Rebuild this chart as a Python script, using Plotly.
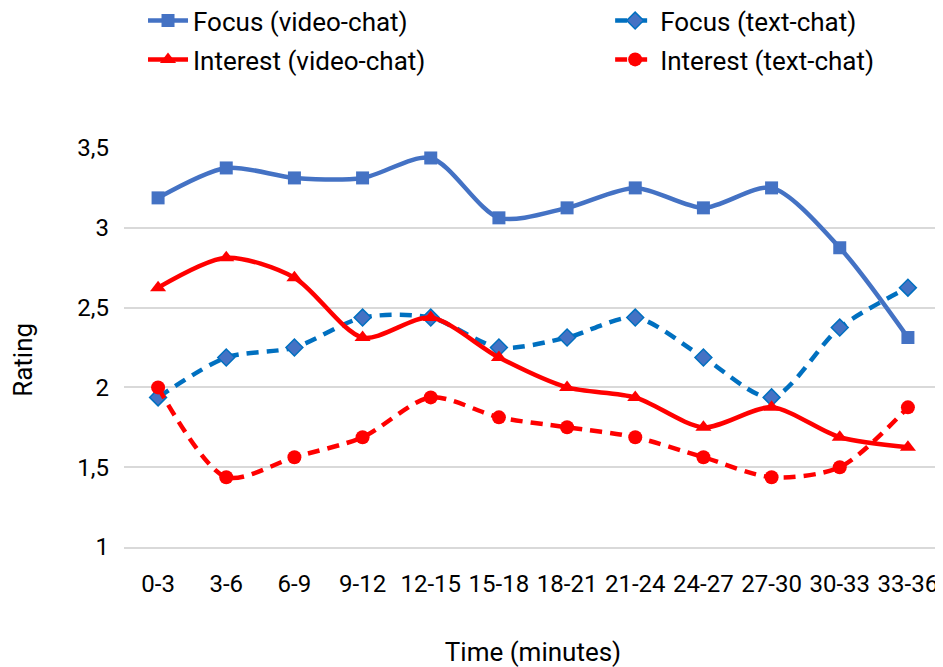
import plotly.graph_objects as go

categories = ["0-3", "3-6", "6-9", "9-12", "12-15", "15-18", "18-21", "21-24",
              "24-27", "27-30", "30-33", "33-36"]
focus_video = [3.1875, 3.375, 3.3125, 3.3125, 3.4375, 3.0625, 3.125, 3.25, 3.125, 3.25, 2.875, 2.3125]
focus_text = [1.9375, 2.1875, 2.25, 2.4375, 2.4375, 2.25, 2.3125, 2.4375, 2.1875, 1.9375, 2.375, 2.625]
interest_video = [2.625, 2.8125, 2.6875, 2.3125, 2.4375, 2.1875, 2.0, 1.9375, 1.75, 1.875, 1.6875, 1.625]
interest_text = [2.0, 1.4375, 1.5625, 1.6875, 1.9375, 1.8125, 1.75, 1.6875, 1.5625, 1.4375, 1.5, 1.875]
y_ticks = [1, 1.5, 2, 2.5, 3, 3.5]
y_ticktext = ["1", "1,5", "2", "2,5", "3", "3,5"]

FONT = "Roboto, Lato, sans-serif"

fig = go.Figure()
fig.add_trace(go.Scatter(
    x=categories, y=focus_video, name="Focus (video-chat)", mode="lines+markers",
    legend="legend", legendgroup="a",
    line=dict(color="#4472C4", width=4.5, shape="spline", smoothing=0.8),
    marker=dict(symbol="square", size=13, color="#4472C4")))
fig.add_trace(go.Scatter(
    x=categories, y=focus_text, name="Focus (text-chat)", mode="lines+markers",
    legend="legend2", legendgroup="b",
    line=dict(color="#0070C0", width=4.5, dash="12px,8px", shape="spline", smoothing=0.8),
    marker=dict(symbol="diamond", size=13, color="#4472C4", line=dict(color="#0070C0", width=1.5))))
fig.add_trace(go.Scatter(
    x=categories, y=interest_video, name="Interest (video-chat)", mode="lines+markers",
    legend="legend", legendgroup="c",
    line=dict(color="#FF0000", width=4.5, shape="spline", smoothing=0.8),
    marker=dict(symbol="triangle-up", size=14, color="#FF0000")))
fig.add_trace(go.Scatter(
    x=categories, y=interest_text, name="Interest (text-chat)", mode="lines+markers",
    legend="legend2", legendgroup="d",
    line=dict(color="#FF0000", width=4.5, dash="12px,8px", shape="spline", smoothing=0.8),
    marker=dict(symbol="circle", size=14, color="#FF0000")))

legend_common = dict(orientation="v", xref="container", yref="paper",
                     xanchor="left", yanchor="top", itemwidth=40, tracegroupgap=2,
                     font=dict(family=FONT, size=26, color="#000000"),
                     bgcolor="rgba(0,0,0,0)")
fig.update_layout(
    width=935, height=659,
    paper_bgcolor="white", plot_bgcolor="white",
    margin=dict(l=116, r=1, t=140, b=120, autoexpand=False),
    font=dict(family=FONT, size=24, color="#000000"),
    showlegend=True,
    legend=dict(x=0.1444, y=1.378, **legend_common),
    legend2=dict(x=0.644, y=1.378, **legend_common),
    annotations=[dict(text="Rating", xref="paper", yref="paper", x=-0.1235, y=0.469,
                      xanchor="center", yanchor="middle", textangle=-90, showarrow=False,
                      font=dict(family=FONT, size=26, color="#000000"))],
)
fig.update_xaxes(
    type="category", range=[-0.5, 11.5], showgrid=False, showline=True,
    linecolor="#D9D9D9", linewidth=1.5,
    ticks="", tickfont=dict(size=24), ticklabelstandoff=14,
    title=dict(text="Time (minutes)", font=dict(size=26), standoff=46),
)
fig.update_yaxes(
    range=[1, 3.5], tickvals=y_ticks, ticktext=y_ticktext,
    showgrid=True, gridcolor="#D9D9D9", gridwidth=1.5, zeroline=False, showline=False,
    ticks="", tickfont=dict(size=24), ticklabelstandoff=14,
)

fig.write_html("out.html")
